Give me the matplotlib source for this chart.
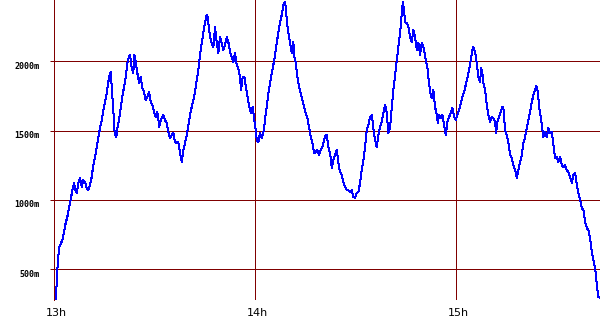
#!/usr/bin/env python3
"""Altitude profile over time (13h - 15h40), recreated with matplotlib."""
import matplotlib
matplotlib.use('Agg')
import matplotlib.pyplot as plt
from matplotlib.transforms import ScaledTranslation

GRID_COLOR = '#800000'
LINE_COLOR = '#0000ff'
PX = 0.72  # one pixel at 100 dpi, in points

# Minutes after 13h
minutes = [
    0.15, 0.66, 0.96, 1.13, 1.43, 1.73, 2.24, 2.63, 3.13, 3.64, 4.12, 4.63, 5.13, 5.61, 6.12,
    6.51, 6.93, 7.40, 7.91, 8.42, 8.90, 9.40, 9.91, 10.39, 10.90, 11.40, 11.88, 12.39, 12.90,
    13.37, 13.88, 14.39, 14.87, 15.37, 15.88, 16.36, 16.87, 17.07, 17.37, 17.85, 18.15, 18.45,
    18.75, 19.04, 19.55, 20.06, 20.54, 21.04, 21.55, 22.03, 22.54, 22.84, 23.34, 23.82, 24.12,
    24.54, 25.02, 25.52, 26.03, 26.51, 27.02, 27.52, 28.00, 28.51, 29.02, 29.49, 30.00, 30.51,
    30.99, 31.58, 31.79, 32.30, 32.78, 33.28, 33.79, 34.27, 34.78, 35.28, 35.76, 36.27, 36.78,
    37.25, 37.76, 38.27, 38.75, 39.25, 39.76, 40.24, 40.75, 41.25, 41.73, 42.24, 42.75, 43.22,
    43.73, 44.24, 44.72, 45.22, 45.73, 46.03, 46.42, 46.81, 47.22, 47.70, 48.21, 48.72, 49.19,
    49.70, 50.21, 50.69, 51.19, 51.70, 52.18, 52.69, 53.19, 53.67, 54.18, 54.69, 55.16, 55.67,
    55.97, 56.48, 56.96, 57.46, 57.97, 58.45, 58.96, 59.46, 59.94, 60.36, 60.66, 61.13, 61.64,
    62.15, 62.63, 62.84, 63.14, 63.64, 64.12, 64.63, 65.14, 65.61, 66.12, 66.63, 67.11, 67.61,
    68.12, 68.60, 69.01, 69.31, 69.61, 70.09, 70.60, 71.11, 71.58, 71.88, 72.30, 72.78, 73.28,
    73.79, 74.27, 74.78, 75.28, 75.76, 76.27, 76.78, 77.26, 77.76, 78.27, 78.75, 79.25, 79.76,
    80.24, 80.75, 81.25, 81.55, 82.03, 82.54, 83.05, 83.52, 84.03, 84.54, 85.02, 85.52, 86.03,
    86.51, 87.01, 87.52, 88.00, 88.51, 89.01, 89.49, 90.00, 90.51, 90.99, 91.49, 92.00, 92.48,
    92.99, 93.49, 93.97, 94.48, 94.99, 95.46, 95.97, 96.48, 96.96, 97.46, 97.97, 98.45, 98.96,
    99.46, 99.94, 100.45, 100.96, 101.43, 101.94, 102.45, 102.93, 103.43, 103.94, 104.24,
    104.63, 104.93, 105.43, 105.91, 106.42, 106.93, 107.40, 107.91, 108.42, 108.90, 109.40,
    109.91, 110.39, 110.69, 111.11, 111.58, 111.88, 112.39, 112.90, 113.37, 113.88, 114.39,
    114.69, 115.07, 115.58, 116.06, 116.57, 117.07, 117.55, 118.06, 118.57, 119.04, 119.55,
    120.06, 120.54, 121.04, 121.55, 122.03, 122.54, 123.04, 123.52, 124.03, 124.54, 125.01,
    125.31, 125.82, 126.33, 126.80, 127.31, 127.61, 128.00, 128.30, 128.81, 129.31, 129.79,
    130.30, 130.81, 131.28, 131.79, 132.09, 132.48, 132.99, 133.49, 133.97, 134.27, 134.78,
    135.28, 135.76, 136.27, 136.78, 137.25, 137.76, 138.27, 138.75, 139.25, 139.76, 140.24,
    140.75, 141.25, 141.73, 142.24, 142.75, 143.22, 143.73, 144.12, 144.54, 144.93, 145.43,
    145.82, 146.21, 146.72, 147.22, 147.70, 148.21, 148.72, 149.19, 149.70, 150.21, 150.69,
    151.19, 151.70, 152.18, 152.69, 153.19, 153.67, 154.18, 154.69, 155.16, 155.67, 156.18,
    156.66, 157.16, 157.67, 158.15, 158.66, 159.16, 159.64, 160.15, 160.66, 161.13, 161.64,
    162.15, 162.63, 163.13,
]

# Altitude in metres
altitude = [
    279, 279, 401, 495, 589, 661, 689, 711, 769, 834, 877, 942, 1000, 1071, 1122,
    1071, 1050, 1122, 1158, 1093, 1144, 1129, 1086, 1071, 1108, 1165, 1252, 1309, 1381,
    1446, 1518, 1576, 1648, 1706, 1771, 1850, 1915, 1922, 1814, 1648, 1504, 1468,
    1454, 1518, 1576, 1663, 1742, 1814, 1886, 1987, 2030, 2045, 1951, 1915, 2045,
    1994, 1915, 1843, 1886, 1807, 1778, 1720, 1742, 1778, 1706, 1684, 1634, 1598,
    1634, 1526, 1554, 1590, 1612, 1576, 1554, 1490, 1446, 1468, 1482, 1418, 1410,
    1418, 1338, 1273, 1360, 1410, 1468, 1540, 1612, 1670, 1720, 1778, 1864, 1936,
    2045, 2131, 2203, 2282, 2333, 2318, 2225, 2167, 2131, 2102, 2246, 2131, 2059,
    2174, 2131, 2081, 2117, 2174, 2138, 2066, 2030, 1994, 2059, 1973, 1951, 1879,
    1792, 1886, 1886, 1807, 1735, 1670, 1627, 1670, 1576, 1504, 1432, 1418, 1482,
    1446, 1490, 1504, 1590, 1670, 1771, 1843, 1915, 1973, 2045, 2131, 2210, 2282,
    2333, 2405, 2427, 2391, 2297, 2203, 2131, 2059, 2138, 2030, 1987, 1886, 1814,
    1771, 1720, 1670, 1627, 1590, 1526, 1454, 1410, 1338, 1345, 1360, 1324, 1360,
    1381, 1432, 1468, 1468, 1381, 1338, 1230, 1288, 1324, 1360, 1266, 1201, 1180,
    1129, 1093, 1071, 1071, 1057, 1071, 1021, 1014, 1050, 1057, 1122, 1216, 1288,
    1381, 1504, 1540, 1598, 1612, 1518, 1432, 1381, 1468, 1526, 1562, 1627, 1684,
    1627, 1482, 1518, 1670, 1792, 1900, 2008, 2102, 2203, 2347, 2427,
    2369, 2282, 2275, 2246, 2174, 2138, 2225, 2174, 2081, 2131, 2045,
    2131, 2102, 2066, 2008, 1958, 1886, 1778, 1735, 1792, 1670, 1612,
    1554, 1612, 1590, 1612, 1540, 1468, 1562, 1598, 1627, 1663, 1598,
    1576, 1612, 1648, 1699, 1742, 1778, 1828, 1879, 1936, 2008, 2081,
    2102, 2066, 1987, 1886, 1850, 1951, 1915, 1843, 1792, 1684, 1612,
    1562, 1598, 1590, 1562, 1482, 1562, 1598, 1634, 1670, 1663, 1504,
    1468, 1410, 1324, 1302, 1252, 1216, 1158, 1216, 1273, 1324, 1410,
    1454, 1518, 1576, 1634, 1706, 1756, 1792, 1821, 1778, 1670, 1598,
    1526, 1454, 1490, 1454, 1518, 1482, 1490, 1396, 1302, 1309, 1273,
    1309, 1252, 1237, 1252, 1216, 1201, 1165, 1122, 1180, 1194, 1108,
    1050, 1000, 942, 927, 841, 798, 783, 726, 625, 567, 509,
    387, 300, 293,
]

hour_ticks = [0, 60, 120]
hour_labels = ['13h', '14h', '15h']
alt_ticks = [500, 1000, 1500, 2000]
alt_labels = ['500m', '1000m', '1500m', '2000m']

fig = plt.figure(figsize=(6, 3.3), dpi=100)
ax = fig.add_axes([53.5 / 600, 30 / 330, 546.5 / 600, 300 / 330])

# Grid first, data on top
for t in hour_ticks[1:]:
    ax.axvline(t, color=GRID_COLOR, linewidth=PX, antialiased=False, zorder=1)
for a in alt_ticks:
    ax.axhline(a, color=GRID_COLOR, linewidth=PX, antialiased=False, zorder=1)

ax.plot(minutes, altitude, color=LINE_COLOR, linewidth=PX, antialiased=False, zorder=2)

ax.set_xlim(0, 163.1)
ax.set_ylim(279, 2441)

for side in ['top', 'right', 'bottom']:
    ax.spines[side].set_visible(False)
ax.spines['left'].set_color(GRID_COLOR)
ax.spines['left'].set_linewidth(PX)
ax.spines['left'].set_antialiased(False)

ax.set_xticks(hour_ticks)
ax.set_xticklabels(hour_labels, fontsize=8, family='DejaVu Sans')
ax.tick_params(axis='x', length=0, pad=6)

ax.set_yticks(alt_ticks)
ax.set_yticklabels(alt_labels, fontsize=6, family='DejaVu Sans Mono', fontweight='bold')
ax.tick_params(axis='y', length=3, width=PX, color=GRID_COLOR, pad=7)

# Small nudges so labels sit where the original has them
for label in ax.get_yticklabels():
    label.set_transform(label.get_transform() + ScaledTranslation(0, -4 / 100, fig.dpi_scale_trans))
for label in ax.get_xticklabels():
    label.set_transform(label.get_transform() + ScaledTranslation(3 / 100, 0, fig.dpi_scale_trans))

plt.savefig('out.png', dpi=100)
